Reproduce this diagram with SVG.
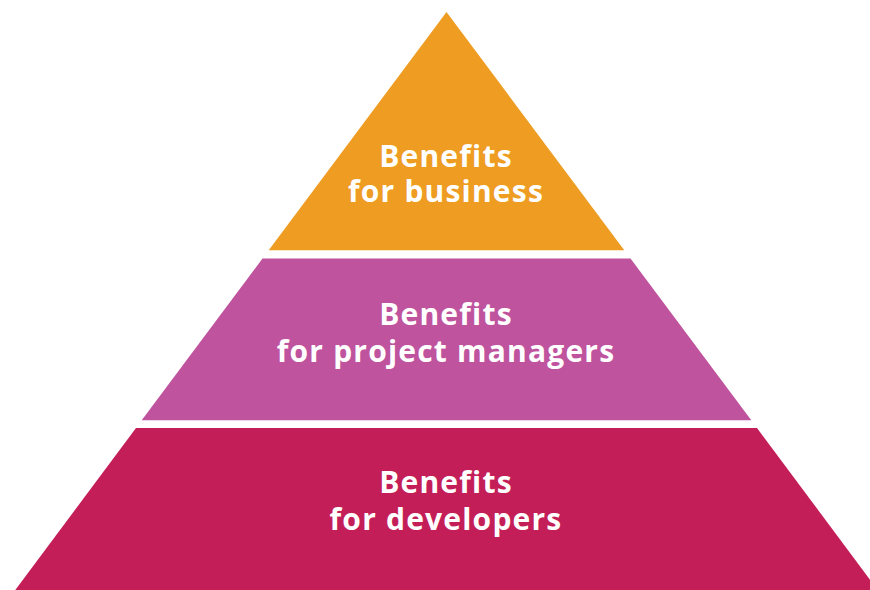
<svg xmlns="http://www.w3.org/2000/svg" width="870" height="590" viewBox="0 0 870 590">
<style>
.lbl{font-family:"Open Sans","Liberation Sans",sans-serif;font-weight:700;font-size:30px;fill:#ffffff;text-anchor:middle;letter-spacing:1.2px}
</style>
<rect width="870" height="590" fill="#ffffff"/>
<g id="tier-business">
<polygon points="446.5,12 624.3,250.3 268.7,250.3" fill="#EE9C22"/>
<text class="lbl" x="446" y="167">Benefits</text>
<text class="lbl" x="446" y="202">for business</text>
</g>
<g id="tier-managers">
<polygon points="262.5,258.5 630.5,258.5 751.3,420.3 141.7,420.3" fill="#BF539E"/>
<text class="lbl" x="446" y="325">Benefits</text>
<text class="lbl" x="446" y="362">for project managers</text>
</g>
<g id="tier-developers">
<polygon points="136,428 757,428 877.7,590 15.3,590" fill="#C41E58"/>
<text class="lbl" x="446" y="493">Benefits</text>
<text class="lbl" x="446" y="530">for developers</text>
</g>
<g id="connectors"></g>
</svg>
